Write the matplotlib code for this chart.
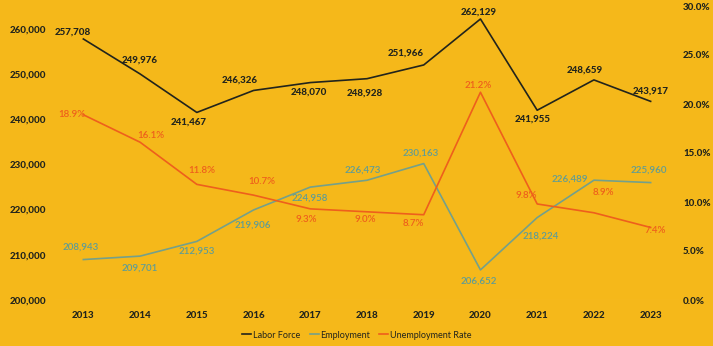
import matplotlib.pyplot as plt
from matplotlib.ticker import FuncFormatter

plt.rcParams["font.family"] = ["Lato", "DejaVu Sans"]

years = ["2013", "2014", "2015", "2016", "2017", "2018", "2019", "2020", "2021", "2022", "2023"]
labor_force = [257708, 249976, 241467, 246326, 248070, 248928, 251966, 262129, 241955, 248659, 243917]
employment = [208943, 209701, 212953, 219906, 224958, 226473, 230163, 206652, 218224, 226489, 225960]
unemployment_rate = [18.9, 16.1, 11.8, 10.7, 9.3, 9.0, 8.7, 21.2, 9.8, 8.9, 7.4]

BG = "#F5B81A"
DARK = "#22241C"
TEAL = "#74A08A"
TEAL_TXT = "#5E9C96"
ORANGE = "#EE5F1C"

# label offsets in pixels (dx, dy) from each point
labor_off = [(-11, 7), (0, 14), (-8, -10), (-14, 10), (-1, -10), (-2, -14),
             (-18, 12), (-2, 7), (-5, -9), (-9, 10), (0, 10)]
emp_off = [(-3, 12), (0, -12), (0, -10), (-1, -15), (-1, -11), (-4, 10),
           (-3, 10), (-2, -11), (4, -19), (-24, 1), (-2, 12)]
rate_off = [(-12, 0), (11, 7), (5, 14), (8, 14), (-4, -11), (-2, -8),
            (-10, -9), (-2, 7), (-11, 8), (9, 20), (5, -3)]

fig = plt.figure(figsize=(7.13, 3.46), dpi=100, facecolor=BG)
ax = fig.add_axes([55 / 713, 46 / 346, 624 / 713, 294 / 346])
ax.set_facecolor(BG)
ax2 = ax.twinx()

x = list(range(len(years)))
l1, = ax.plot(x, labor_force, color=DARK, lw=1.2, label="Labor Force")
l2, = ax.plot(x, employment, color=TEAL, lw=1.2, label="Employment")
l3, = ax2.plot(x, unemployment_rate, color=ORANGE, lw=1.2, label="Unemployment Rate")

ax.set_xlim(-0.5, len(years) - 0.5)
ax.set_ylim(200000, 265000)
ax.set_yticks(range(200000, 260001, 10000))
ax.yaxis.set_major_formatter(FuncFormatter(lambda v, _: f"{v:,.0f}"))
ax2.set_ylim(0, 30)
ax2.set_yticks(range(0, 31, 5))
ax2.yaxis.set_major_formatter(FuncFormatter(lambda v, _: f"{v:.1f}%"))
ax.set_xticks(x)
ax.set_xticklabels(years)

for a in (ax, ax2):
    for side in ("top", "left", "right", "bottom"):
        a.spines[side].set_visible(False)
    a.tick_params(length=0, labelsize=7, labelcolor=DARK)
    for t in a.get_yticklabels() + a.get_xticklabels():
        t.set_fontweight("black")
ax.tick_params(axis="y", pad=6)
ax.tick_params(axis="x", pad=8)
ax2.tick_params(axis="y", pad=3)
ax.axhline(200000, color="#F8C94A", lw=0.8, zorder=0)

for i in x:
    ax.annotate(f"{labor_force[i]:,}", (i, labor_force[i]), xytext=labor_off[i],
                textcoords="offset pixels", ha="center", va="center",
                fontsize=7, fontweight="black", color=DARK)
    ax.annotate(f"{employment[i]:,}", (i, employment[i]), xytext=emp_off[i],
                textcoords="offset pixels", ha="center", va="center",
                fontsize=7, fontweight="semibold", color=TEAL_TXT)
    ax2.annotate(f"{unemployment_rate[i]:.1f}%", (i, unemployment_rate[i]), xytext=rate_off[i],
                 textcoords="offset pixels", ha="center", va="center",
                 fontsize=7, fontweight="semibold", color=ORANGE)

fig.legend(handles=[l1, l2, l3], loc="center", bbox_to_anchor=(357 / 713, 1 - 335 / 346),
           ncol=3, frameon=False, fontsize=6.5, handlelength=1.0, handletextpad=0.2,
           columnspacing=1.0, labelcolor=DARK)

fig.savefig("out.png", dpi=100, facecolor=BG)
